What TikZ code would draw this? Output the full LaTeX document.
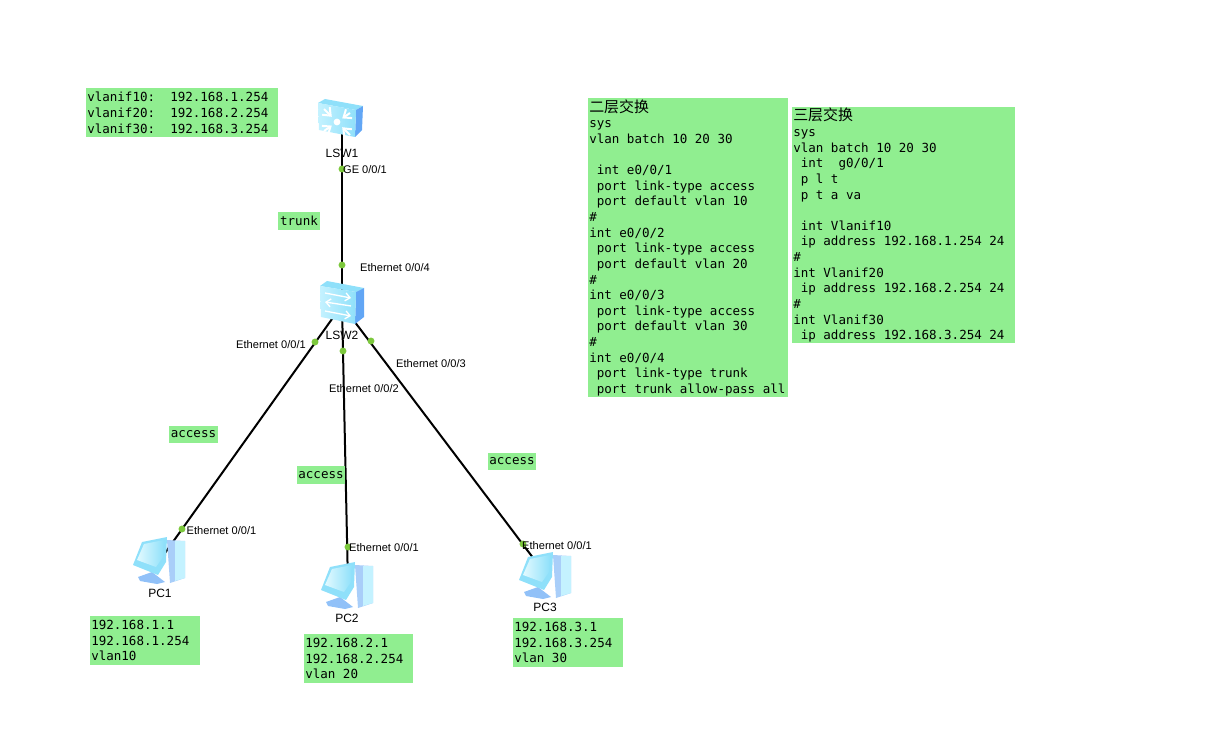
\documentclass[tikz,border=0pt]{standalone}
\usepackage{fontspec}
\setmainfont{Liberation Sans}
\newfontfamily\cfgfont{DejaVu Sans Mono}
\newfontfamily\cjkfont{Noto Sans CJK SC}
\usetikzlibrary{arrows.meta}
\definecolor{notegreen}{HTML}{90EE90}
\definecolor{portgreen}{HTML}{7CC83C}
\definecolor{iconlight}{HTML}{C4F2FF}
\definecolor{iconmid}{HTML}{8FE0FA}
\definecolor{iconblue}{HTML}{62A6F5}
\definecolor{iconpale}{HTML}{E2FAFF}
\newcommand{\cjktitle}[1]{{\cjkfont\fontsize{11.2pt}{11.72pt}\selectfont #1}}
\newcommand{\coreswitch}[1]{
  \begin{scope}[shift={(#1)}]
    \fill[iconmid] (-24,-15)--(-17,-19)--(21,-12)--(14,-8)--cycle;
    \fill[iconblue] (14,-8)--(21,-12)--(20,12)--(13,19)--cycle;
    \shade[left color=iconlight,right color=iconmid] (-24,-15)--(14,-8)--(13,19)--(-23,12)--cycle;
    \fill[white] (-5,4) circle (3.4);
    \foreach \ax/\ay in {-18/-9,8/-5,-18/13,8/17}
      \draw[white,line width=1.5pt,-{Straight Barb[length=5pt,width=8pt]}] (\ax,\ay)--({\ax+0.6*(-5-\ax)},{\ay+0.6*(4-\ay)});
  \end{scope}
}
\newcommand{\accessswitch}[1]{
  \begin{scope}[shift={(#1)}]
    \fill[iconmid] (-22,-19)--(-15,-24)--(22,-17)--(14,-13)--cycle;
    \fill[iconblue] (14,-13)--(22,-17)--(22,12)--(13,19)--cycle;
    \shade[left color=iconlight,right color=iconmid] (-22,-19)--(14,-13)--(13,19)--(-21,12)--cycle;
    \draw[white,line width=1pt,-{Straight Barb[length=3.5pt,width=6pt]}] (-17,-12)--(9,-7);
    \draw[white,line width=1pt,{Straight Barb[length=3.5pt,width=6pt]}-] (-17,-3)--(9,1);
    \draw[white,line width=1pt,-{Straight Barb[length=3.5pt,width=6pt]}] (-17,6)--(9,11);
  \end{scope}
}
\newcommand{\hostpc}[1]{
  \begin{scope}[shift={(#1)}]
    % tower behind the monitor
    \fill[iconblue!55!white] (7,-20)--(25,-19)--(25,18)--(10,23)--cycle;
    \fill[iconlight] (15,-19)--(25,-19)--(25,18)--(15,21)--cycle;
    \fill[iconblue!70!white] (-22,17)--(-8,12)--(5,22)--(-3,24)--(-20,21)--cycle;
    \fill[iconmid] (-27,5)--(-18,-18)--(7,-23)--(6,2)--(-2,15)--cycle;
    \shade[left color=iconpale,right color=iconmid] (-23,0)--(-16,-16)--(4,-20)--(3,-3)--(-4,7)--cycle;
  \end{scope}
}
\tikzset{
  devnode/.style={inner sep=0pt,minimum size=0pt,outer sep=0pt},
  linkline/.style={line width=1.5pt,black},
  portdot/.style={circle,fill=portgreen,inner sep=0pt,minimum size=5.2pt},
  portlabel/.style={font=\fontsize{8.3pt}{10pt}\selectfont,inner sep=0pt},
  devlabel/.style={font=\fontsize{9pt}{10pt}\selectfont,inner sep=0pt},
  notebox/.style={fill=notegreen,anchor=north west,align=flush left,inner xsep=0.75pt,inner ysep=0pt,
    font=\cfgfont\fontsize{9.4pt}{11.72pt}\selectfont},
  tagbox/.style={fill=notegreen,inner sep=0pt,font=\cfgfont\fontsize{9.4pt}{11.72pt}\selectfont},
}
\begin{document}
\begin{tikzpicture}[x=0.75pt,y=-0.75pt]
\useasboundingbox (0,0) rectangle (1211,745);
% devices
\node[devnode] (LSW1) at (342,118) {};
\node[devnode] (LSW2) at (342,305) {};
\node[devnode] (PC1) at (160,560) {};
\node[devnode] (PC2) at (348,585) {};
\node[devnode] (PC3) at (546,575) {};
% links
\draw[linkline] (LSW1)--(LSW2);
\draw[linkline] (LSW2)--(PC1);
\draw[linkline] (LSW2)--(PC2);
\draw[linkline] (LSW2)--(PC3);
% icons sit on the links
\coreswitch{LSW1}
\accessswitch{LSW2}
\hostpc{PC1}
\hostpc{PC2}
\hostpc{PC3}
\node[devlabel] (LSW1text) at (342,153) {LSW1};
\node[devlabel] (LSW2text) at (342,335) {LSW2};
\node[devlabel] (PC1text) at (160,593) {PC1};
\node[devlabel] (PC2text) at (347,618) {PC2};
\node[devlabel] (PC3text) at (545,607) {PC3};
% ports
\foreach \dotname/\dotx/\doty in {d1/342/169,d2/342/265,d3/315/342,d4/343/351,d5/371/341,d6/182/529,d7/348/547,d8/523/544}
  \node[portdot] (\dotname) at (\dotx,\doty) {};
\node[portlabel] (p1) at (365,169.5) {GE 0/0/1};
\node[portlabel] (p2) at (395,267.5) {Ethernet 0/0/4};
\node[portlabel] (p3) at (271,344.5) {Ethernet 0/0/1};
\node[portlabel] (p4) at (364,388.5) {Ethernet 0/0/2};
\node[portlabel] (p5) at (431,363.5) {Ethernet 0/0/3};
\node[portlabel] (p6) at (221.5,530.5) {Ethernet 0/0/1};
\node[portlabel] (p7) at (384,547.5) {Ethernet 0/0/1};
\node[portlabel] (p8) at (557,545.5) {Ethernet 0/0/1};
% link types
\node[tagbox,minimum width=31.5pt,minimum height=13.5pt] (trunktag) at (299,221) {trunk};
\node[tagbox,minimum width=36.75pt,minimum height=13pt] (tag1) at (193.5,434.5) {access};
\node[tagbox,minimum width=36pt,minimum height=13.5pt] (tag2) at (321,475) {access};
\node[tagbox,minimum width=36pt,minimum height=13pt] (tag3) at (512,461.5) {access};
% notes
\node[notebox,text width=142.5pt,minimum height=36.75pt] (vlanifnote) at (86,88) {vlanif10:\ \ 192.168.1.254\\vlanif20:\ \ 192.168.2.254\\vlanif30:\ \ 192.168.3.254};
\node[notebox,text width=81pt,minimum height=36.75pt] (pc1note) at (90,616) {192.168.1.1\\192.168.1.254\\vlan10};
\node[notebox,text width=80.25pt,minimum height=36.75pt] (pc2note) at (304,634) {192.168.2.1\\192.168.2.254\\vlan 20};
\node[notebox,text width=81pt,minimum height=36.75pt] (pc3note) at (513,618) {192.168.3.1\\192.168.3.254\\vlan 30};
\node[notebox,text width=148.5pt,minimum height=224.25pt] (l2note) at (588,98) {\cjktitle{二层交换}\\sys\\vlan batch 10 20 30\\~\\\ int e0/0/1\\\ port link-type access\\\ port default vlan 10\\\#\\int e0/0/2\\\ port link-type access\\\ port default vlan 20\\\#\\int e0/0/3\\\ port link-type access\\\ port default vlan 30\\\#\\int e0/0/4\\\ port link-type trunk\\\ port trunk allow-pass all};
\node[notebox,text width=165.75pt,minimum height=177pt] (l3note) at (792,107) {\cjktitle{三层交换}\\sys\\vlan batch 10 20 30\\\ int\ \ g0/0/1\\\ p l t\\\ p t a va\\~\\\ int Vlanif10\\\ ip address 192.168.1.254 24\\\#\\int Vlanif20\\\ ip address 192.168.2.254 24\\\#\\int Vlanif30\\\ ip address 192.168.3.254 24};
\end{tikzpicture}
\end{document}
